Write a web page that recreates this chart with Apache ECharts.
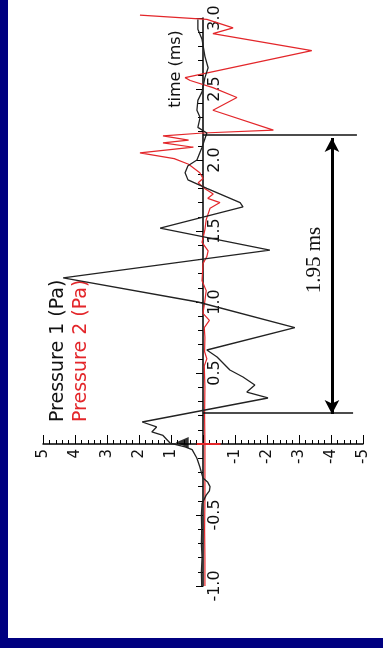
<!DOCTYPE html>
<html>
<head>
<meta charset="utf-8">
<script src="https://cdn.jsdelivr.net/npm/echarts@6/dist/echarts.min.js"></script>
<style>
html,body{margin:0;padding:0;background:#000080;width:383px;height:648px;overflow:hidden;}
#panel{position:absolute;left:8px;top:0;width:375px;height:638px;background:#fff;}
#chart{position:absolute;left:0;top:0;width:383px;height:648px;}
</style>
</head>
<body>
<div id="panel"></div>
<div id="chart"></div>
<script>
// time (ms) and pressure (Pa) samples
const p1Time = [-1.0, -0.9, -0.8, -0.7, -0.6, -0.5, -0.42, -0.36, -0.33, -0.30, -0.27, -0.24, -0.16, -0.10, -0.04, -0.02, 0.007, 0.06, 0.085, 0.12, 0.155, 0.324, 0.366, 0.415, 0.472, 0.521, 0.613, 0.662, 0.82, 1.0, 1.17, 1.366, 1.52, 1.67, 1.70, 1.80, 1.86, 1.91, 1.96, 2.0, 2.09, 2.19, 2.23, 2.30, 2.35, 2.42, 2.48, 2.58, 2.65, 2.73, 2.85, 2.92, 2.99];
const p1Values = [0.04, 0.05, 0.03, 0.05, 0.04, 0.05, 0.03, -0.1, -0.2, -0.22, -0.15, 0.0, 0.1, 0.19, 0.34, 0.56, 1.03, 1.25, 1.6, 1.45, 1.9, -2.03, -1.37, -1.62, -1.25, -0.84, -0.44, -0.12, -2.87, 0.16, 4.37, -2.09, 1.34, -1.25, -1.16, -0.12, 0.47, 0.56, 0.47, 0.19, 0.03, -0.12, 0.16, 0.09, 0.19, 0.16, 0.03, -0.06, -0.16, -0.06, 0.03, 0.16, 0.16];
const p2Time = [-1.0, -0.8, -0.6, -0.4, -0.2, 0.0, 0.2, 0.4, 0.55, 0.6, 0.65, 0.75, 0.82, 0.87, 0.92, 1.01, 1.08, 1.15, 1.27, 1.32, 1.36, 1.42, 1.51, 1.58, 1.66, 1.70, 1.73, 1.76, 1.80, 1.84, 1.87, 1.91, 1.97, 2.01, 2.05, 2.09, 2.12, 2.14, 2.17, 2.19, 2.21, 2.35, 2.44, 2.51, 2.56, 2.58, 2.77, 2.89, 2.93, 2.99, 3.02];
const p2Values = [-0.06, -0.06, -0.05, -0.06, -0.06, -0.06, -0.05, -0.06, -0.04, -0.12, -0.05, -0.06, -0.04, -0.2, 0.0, -0.06, -0.1, 0.03, 0.0, -0.12, -0.16, 0.03, -0.06, -0.1, -0.22, -0.53, -0.15, -0.32, -0.05, 0.15, 0.0, 0.1, 0.45, 0.9, 1.97, 0.3, 1.25, 0.45, 1.25, 0.0, -2.2, -0.31, -1.06, -0.31, 0.4, 0.56, -3.4, -0.31, -0.94, -0.12, 1.97];
// annotation values
const refTimes = [0.218, 2.176];      // horizontal reference lines (ms)
const refEnds = [-4.69, -4.81];       // pressure where those lines end
const arrowPressure = -4.03;
const arrowTimes = [0.211, 2.155];
const triggerMark = [0.65, 0.01];     // black triangle marker [p, t]
const redMark = [[0.2, 0.0], [-0.55, 0.0]];
const seriesNames = ['Pressure 1 (Pa)', 'Pressure 2 (Pa)'];

const font = 'DejaVu Sans';
const G = {left: 43, right: 20, top: 18, bottom: 62};
const W = 383 - G.left - G.right, H = 648 - G.top - G.bottom;
const pMin = -5, pMax = 5, tMin = -1, tMax = 3;
// put each axis through the other axis's zero
const xOffset = -H * (0 - tMin) / (tMax - tMin);
const yOffset = -W * (pMax - 0) / (pMax - pMin);

const chart = echarts.init(document.getElementById('chart'), null, {renderer: 'canvas'});
const d1 = p1Time.map((t, i) => [p1Values[i], t]);
const d2 = p2Time.map((t, i) => [p2Values[i], t]);

chart.setOption({
  animation: false,
  backgroundColor: 'transparent',
  grid: Object.assign({containLabel: false}, G),
  xAxis: {
    type: 'value', min: pMin, max: pMax, interval: 1, inverse: true, position: 'bottom', offset: xOffset,
    axisLine: {onZero: false, lineStyle: {color: '#000', width: 1.5}},
    axisTick: {inside: true, length: 9, lineStyle: {color: '#000', width: 1}},
    minorTick: {show: true, splitNumber: 5, length: 4, lineStyle: {color: '#000', width: 1}},
    axisLabel: {rotate: 90, fontSize: 15, fontFamily: font, color: '#111', margin: 5,
      formatter: v => v === 0 ? '' : String(v)},
    splitLine: {show: false}
  },
  yAxis: {
    type: 'value', min: tMin, max: tMax, interval: 0.5, position: 'right', offset: yOffset,
    axisLine: {onZero: false, lineStyle: {color: '#000', width: 1.5}},
    axisTick: {inside: true, length: 7, lineStyle: {color: '#000', width: 1}},
    minorTick: {show: true, splitNumber: 5, length: 5, lineStyle: {color: '#000', width: 1}},
    axisLabel: {rotate: 90, fontSize: 16, fontFamily: font, color: '#111', margin: 4,
      formatter: v => v === 0 ? '' : v.toFixed(1)},
    splitLine: {show: false}
  },
  series: [
    {name: seriesNames[1], type: 'line', data: d2, symbol: 'none', clip: false, z: 3,
      lineStyle: {color: '#e3262a', width: 1.2}},
    {name: seriesNames[0], type: 'line', data: d1, symbol: 'none', z: 4,
      lineStyle: {color: '#222', width: 1.3}},
    {type: 'line', data: redMark, symbol: 'none', z: 5, lineStyle: {color: '#e3262a', width: 2}},
    {type: 'scatter', data: [triggerMark], symbol: 'triangle', symbolRotate: 90, symbolSize: [11, 13],
      itemStyle: {color: '#000'}, z: 6},
    {type: 'line', data: [], silent: true,
      markLine: {
        silent: true, symbol: ['none', 'none'], label: {show: false},
        lineStyle: {color: '#111', width: 1.5, type: 'solid'},
        data: refTimes.map((t, i) => [{coord: [0, t]}, {coord: [refEnds[i], t]}])
      }},
    {type: 'line', data: [], silent: true,
      markLine: {
        silent: true, symbol: ['arrow', 'arrow'], symbolSize: [11, 14], label: {show: false},
        lineStyle: {color: '#000', width: 3, type: 'solid'},
        data: [[{coord: [arrowPressure, arrowTimes[0]]}, {coord: [arrowPressure, arrowTimes[1]]}]]
      }}
  ],
  graphic: [
    {type: 'text', x: 58, y: 422, rotation: Math.PI / 2,
      style: {text: seriesNames[0], fill: '#111', font: '19px "DejaVu Sans"', textAlign: 'left', textVerticalAlign: 'middle'}},
    {type: 'text', x: 81, y: 422, rotation: Math.PI / 2,
      style: {text: seriesNames[1], fill: '#e3262a', font: '19px "DejaVu Sans"', textAlign: 'left', textVerticalAlign: 'middle'}},
    {type: 'text', x: 176, y: 69, rotation: Math.PI / 2,
      style: {text: 'time (ms)', fill: '#111', font: '16px "DejaVu Sans"', textAlign: 'center', textVerticalAlign: 'middle'}},
    {type: 'text', x: 314, y: 260, rotation: Math.PI / 2,
      style: {text: '1.95 ms', fill: '#111', font: '21px "Liberation Serif"', textAlign: 'center', textVerticalAlign: 'middle'}}
  ]
});
</script>
</body>
</html>
